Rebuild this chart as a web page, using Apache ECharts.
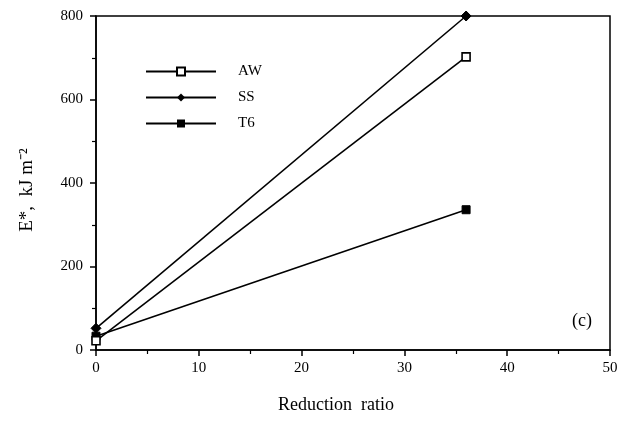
<!DOCTYPE html>
<html>
<head>
<meta charset="utf-8">
<script src="https://cdn.jsdelivr.net/npm/echarts@6/dist/echarts.min.js"></script>
<style>
  html, body { margin: 0; padding: 0; background: #fff; }
  #chart { width: 628px; height: 428px; }
</style>
</head>
<body>
<div id="chart"></div>
<script>
// reduction ratio values (x) and E* in kJ m^-2 (y)
const reductionRatio = [0, 36];
const awValues = [22, 702];
const ssValues = [52, 800];
const t6Values = [33, 336];
const seriesNames = ["AW", "SS", "T6"];

const FONT = "Liberation Serif";

const chart = echarts.init(document.getElementById("chart"), null, { renderer: "canvas" });

const pairs = (ys) => reductionRatio.map((x, i) => [x, ys[i]]);

const lineStyle = { color: "#000", width: 1.6 };

const option = {
  backgroundColor: "#fff",
  animation: false,
  textStyle: { fontFamily: FONT, color: "#000" },
  grid: {
    left: 96, right: 18, top: 16, bottom: 78,
    show: true, borderColor: "#000", borderWidth: 1.5
  },
  legend: {
    orient: "vertical",
    left: 140, top: 59,
    itemWidth: 70, itemHeight: 10,
    itemGap: 11,
    textStyle: { fontFamily: FONT, fontSize: 15, color: "#000", padding: [0, 0, 0, 17] },
    data: seriesNames
  },
  xAxis: {
    type: "value",
    min: 0, max: 50, interval: 10,
    axisLine: { lineStyle: { color: "#000", width: 1.5 } },
    axisTick: { show: true, length: 6, lineStyle: { color: "#000", width: 1.5 } },
    minorTick: { show: true, splitNumber: 2, length: 4, lineStyle: { color: "#000", width: 1.2 } },
    splitLine: { show: false },
    axisLabel: { fontFamily: FONT, fontSize: 15, color: "#000", margin: 11 }
  },
  yAxis: {
    type: "value",
    min: 0, max: 800, interval: 200,
    axisLine: { lineStyle: { color: "#000", width: 1.5 } },
    axisTick: { show: true, length: 6, lineStyle: { color: "#000", width: 1.5 } },
    minorTick: { show: true, splitNumber: 2, length: 4, lineStyle: { color: "#000", width: 1.2 } },
    splitLine: { show: false },
    axisLabel: { fontFamily: FONT, fontSize: 15, color: "#000", margin: 13 }
  },
  graphic: [
    {
      type: "text", x: 336, y: 405,
      style: { text: "Reduction  ratio", font: "18px " + FONT, fill: "#000", align: "center", verticalAlign: "middle", letterSpacing: 2.5 }
    },
    {
      type: "text", x: 27, y: 190, rotation: Math.PI / 2,
      style: { text: "E*,  kJ m\u207B\u00B2", font: "19px " + FONT, fill: "#000", align: "center", verticalAlign: "middle", letterSpacing: 3 }
    },
    {
      type: "text", left: 572, top: 312,
      style: { text: "(c)", font: "18px " + FONT, fill: "#000" }
    }
  ],
  series: [
    {
      name: "AW", type: "line", data: pairs(awValues),
      symbol: "rect", symbolSize: 8,
      itemStyle: { color: "#fff", borderColor: "#000", borderWidth: 1.6 },
      lineStyle: lineStyle, z: 3
    },
    {
      name: "SS", type: "line", data: pairs(ssValues),
      symbol: "diamond", symbolSize: 10,
      itemStyle: { color: "#000", borderColor: "#000" },
      lineStyle: lineStyle, z: 4
    },
    {
      name: "T6", type: "line", data: pairs(t6Values),
      symbol: "rect", symbolSize: 8,
      itemStyle: { color: "#000", borderColor: "#000" },
      lineStyle: lineStyle, z: 2
    }
  ]
};

chart.setOption(option);
</script>
</body>
</html>
